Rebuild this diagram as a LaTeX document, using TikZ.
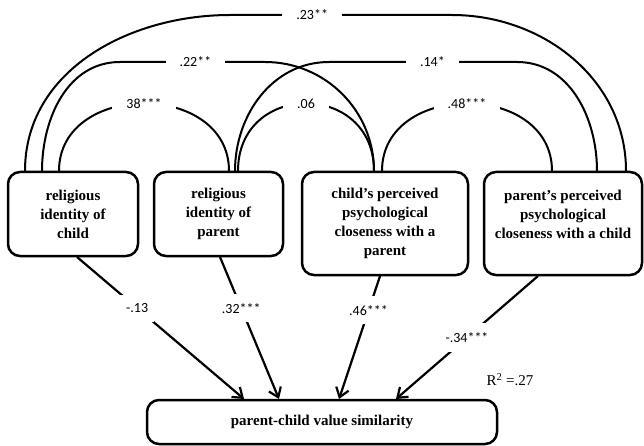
\documentclass[tikz,border=0pt]{standalone}
\usepackage{fontspec}
\setmainfont{Liberation Serif}
\newfontfamily\coeffont{Carlito}
\usetikzlibrary{arrows.meta}

\tikzset{
  var/.style={draw, line width=2.5pt, rounded corners=12pt, align=center,
    font=\bfseries\fontsize{15}{19}\selectfont, inner sep=2pt},
  corr/.style={line width=2pt},
  effect/.style={line width=2.2pt, -{Straight Barb[length=9pt,width=13pt]}},
  coef/.style={fill=white, font=\coeffont\fontsize{14}{16}\selectfont,
    inner xsep=14pt, inner ysep=2pt},
  pcoef/.style={coef, inner xsep=6pt, inner ysep=9pt}
}

\begin{document}
\begin{tikzpicture}[x=1pt, y=-1pt]
  \useasboundingbox (0,0) rectangle (644,446);

  % Predictors
  \node[var, minimum width=130pt, minimum height=84pt] (relc) at (73,214) {religious\\identity of\\child};
  \node[var, minimum width=129pt, minimum height=84pt] (relp) at (218.5,214) {religious\\identity of\\parent};
  \node[var, minimum width=166pt, minimum height=103pt] (closc) at (385,223.5) {child’s perceived\\psychological\\closeness with a\\parent};
  \node[var, minimum width=158pt, minimum height=103pt] (closp) at (563,223.5) {parent’s perceived\\psychological\\closeness with a child\\\mbox{}};

  % Outcome
  \node[var, minimum width=350pt, minimum height=44pt] (sim) at (322,422) {parent-child value similarity};
  \node[font=\fontsize{15}{18}\selectfont] (rsq) at (510,380) {R\textsuperscript{2} =.27};

  % Ends of the correlations
  \coordinate (relc1) at (25,171);
  \coordinate (relc2) at (42,171);
  \coordinate (relc3) at (59,171);
  \coordinate (relp1) at (229,171);
  \coordinate (relp2) at (235,171);
  \coordinate (relp3) at (238,171);
  \coordinate (closc1) at (374,171);
  \coordinate (closc2) at (382,171);
  \coordinate (closp1) at (552,171);
  \coordinate (closp2) at (597,171);
  \coordinate (closp3) at (626,171);

  % Ends of the paths
  \coordinate (relcb) at (77,257);
  \coordinate (relpb) at (220,257);
  \coordinate (closcb) at (380,276);
  \coordinate (clospb) at (538,276);
  \coordinate (sim1) at (244,399);
  \coordinate (sim2) at (279,399);
  \coordinate (sim3) at (339,399);
  \coordinate (sim4) at (396,399);

  % Correlations
  \draw[corr] (relc1) to[out=90,in=180] (230,15) -- node[coef,pos=0.37] {.23**} (452,15) to[out=0,in=90] (closp3);
  \draw[corr] (relc2) to[out=90,in=180] (120,62) -- node[coef,pos=0.52] {.22**} (265,62) to[out=0,in=90] (closc1);
  \draw[corr] (relp2) to[out=90,in=180] (329,62) -- node[coef,pos=0.55] {.14*} (517,62) to[out=0,in=90] (closp2);
  \draw[corr] (relc3) to[out=90,in=90,looseness=1.36] node[coef] {38***} (relp1);
  \draw[corr] (relp3) to[out=90,in=90,looseness=1.7] node[coef] {.06} (closc1);
  \draw[corr] (closc2) to[out=90,in=90,looseness=1.36] node[coef] {.48***} (closp1);

  % Paths
  \draw[effect] (relcb) -- node[pcoef,pos=0.36] {-.13} (sim1);
  \draw[effect] (relpb) -- node[pcoef,pos=0.36] {.32***} (sim2);
  \draw[effect] (closcb) -- node[pcoef,pos=0.28] {.46***} (sim3);
  \draw[effect] (clospb) -- node[pcoef,pos=0.5] {-.34***} (sim4);
\end{tikzpicture}
\end{document}
